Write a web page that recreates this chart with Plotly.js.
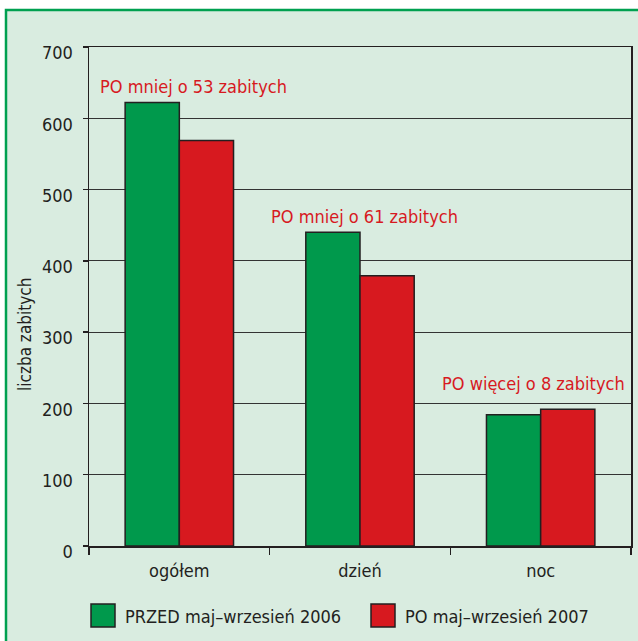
<!DOCTYPE html>
<html>
<head>
<meta charset="utf-8">
<script src="https://cdn.plot.ly/plotly-3.0.1.min.js"></script>
<style>html,body{margin:0;padding:0;background:#fff;}#chart{width:638px;height:641px;}</style>
</head>
<body>
<div id="chart"></div>
<script>
// ---- data ----
const categories = ['ogółem', 'dzień', 'noc'];
const przed = [622, 440, 184];
const po = [569, 379, 192];
const seriesNames = ['PRZED maj–wrzesień 2006', 'PO maj–wrzesień 2007'];
const noteTexts = ['PO mniej o 53 zabitych', 'PO mniej o 61 zabitych', 'PO więcej o 8 zabitych'];
const yTicks = [0, 100, 200, 300, 400, 500, 600, 700];
const yTitle = 'liczba zabitych';

// ---- style ----
const FONT = '"DejaVu Sans Condensed", "Liberation Sans Narrow", sans-serif';
const FS = 18;
const DARK = '#231f20';
const GREEN = '#00994c';
const RED = '#d7191f';
const BG = '#d9ece0';
const W = 638, H = 641;
const M = {l: 89, r: 7, t: 47, b: 95};
const pw = W - M.l - M.r, ph = H - M.t - M.b;
const px = v => (v - M.l) / pw;          // pixel -> paper x
const py = v => (H - M.b - v) / ph;       // pixel -> paper y

const barLine = {color: DARK, width: 1.5};
const traces = [
  {type: 'bar', name: seriesNames[0], x: categories, y: przed,
   marker: {color: GREEN, line: barLine}, showlegend: false, hoverinfo: 'none'},
  {type: 'bar', name: seriesNames[1], x: categories, y: po,
   marker: {color: RED, line: barLine}, showlegend: false, hoverinfo: 'none'}
];

const noteXShift = [14, 4, -7];
const noteYShift = [16, 16, 26];
const annotations = noteTexts.map((t, i) => ({
  x: i, y: Math.max(przed[i], po[i]), xref: 'x', yref: 'y',
  text: t, showarrow: false, xanchor: 'center', yanchor: 'middle',
  xshift: noteXShift[i], yshift: noteYShift[i],
  font: {family: FONT, size: FS, color: RED}
}));

// y-axis title as rotated annotation
annotations.push({xref: 'paper', yref: 'paper', x: px(25), y: py(335),
  xanchor: 'center', yanchor: 'middle', textangle: -90, showarrow: false,
  text: yTitle, font: {family: FONT, size: 17, color: DARK}});

// custom legend
const legColors = [GREEN, RED];
const legX = [91, 371];
const shapes = [
  {type: 'rect', xref: 'paper', yref: 'paper', layer: 'below',
   x0: px(6), x1: px(720), y0: py(720), y1: py(10),
   fillcolor: BG, line: {color: '#00a050', width: 2.5}}
];
seriesNames.forEach((n, i) => {
  shapes.push({type: 'rect', xref: 'paper', yref: 'paper',
    x0: px(legX[i]), x1: px(legX[i] + 24), y0: py(627), y1: py(604),
    fillcolor: legColors[i], line: {color: DARK, width: 1.5}});
  annotations.push({xref: 'paper', yref: 'paper', x: px(legX[i] + 32), y: py(616),
    xanchor: 'left', yanchor: 'middle', showarrow: false, text: n,
    font: {family: FONT, size: FS, color: DARK}});
});

const layout = {
  width: W, height: H, margin: M,
  paper_bgcolor: '#ffffff', plot_bgcolor: 'rgba(0,0,0,0)',
  barmode: 'group', bargap: 0.4, bargroupgap: 0,
  showlegend: false,
  font: {family: FONT, size: FS, color: DARK},
  xaxis: {type: 'category', range: [-0.5, 2.5], showgrid: false,
    showline: true, linecolor: DARK, linewidth: 1.5, mirror: true,
    ticks: 'outside', tickson: 'boundaries', ticklen: 7, tickwidth: 1.5, tickcolor: DARK,
    ticklabelstandoff: 8,
    tickfont: {family: FONT, size: FS, color: DARK}, zeroline: false},
  yaxis: {range: [0, 700], tickvals: yTicks, showgrid: true, gridcolor: '#333333', gridwidth: 1.2,
    showline: true, linecolor: DARK, linewidth: 1.5, mirror: true,
    ticks: 'outside', ticklen: 5, tickwidth: 1.5, tickcolor: DARK,
    ticklabelstandoff: 6, ticklabelshift: 6, zeroline: false,
    tickfont: {family: FONT, size: FS, color: DARK}},
  annotations: annotations,
  shapes: shapes
};

Plotly.newPlot('chart', traces, layout, {staticPlot: true});
</script>
</body>
</html>
